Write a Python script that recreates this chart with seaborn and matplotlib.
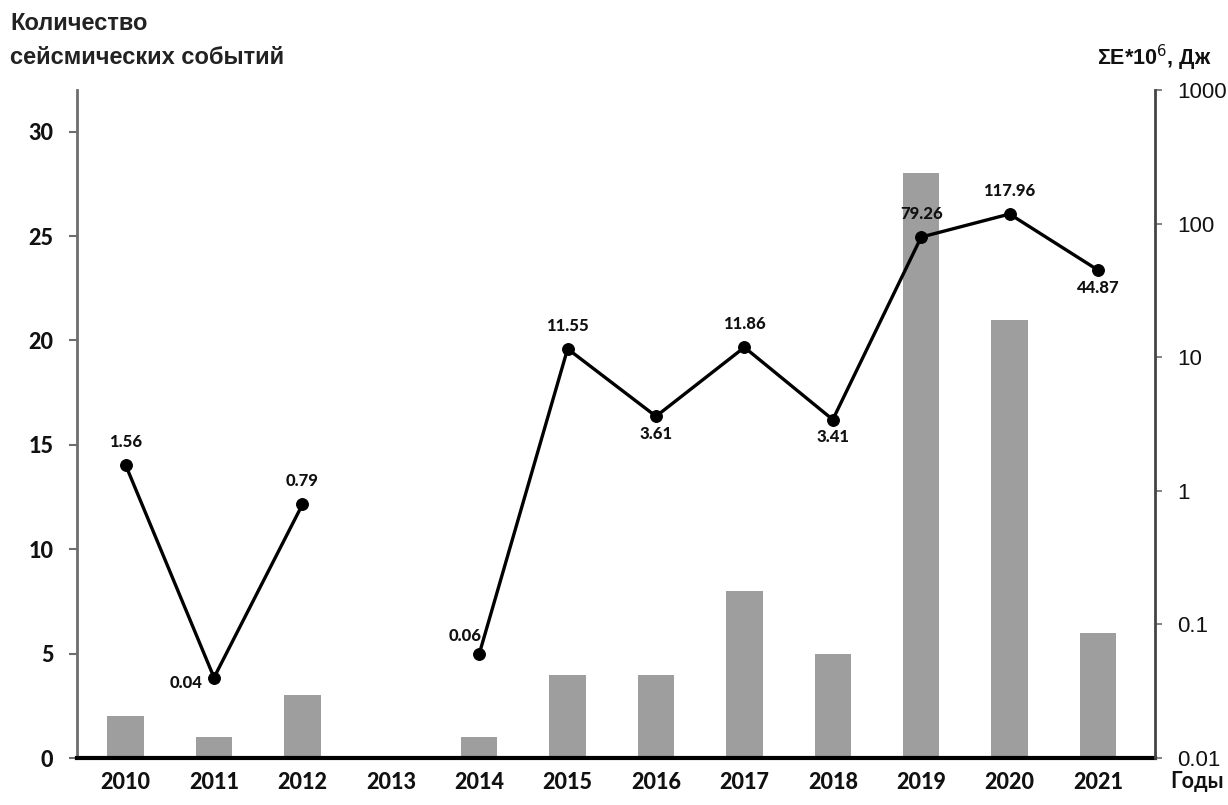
import numpy as np
import pandas as pd
import matplotlib
matplotlib.use("Agg")
import matplotlib.pyplot as plt
import seaborn as sns

years = ["2010", "2011", "2012", "2013", "2014", "2015", "2016", "2017", "2018", "2019", "2020", "2021"]
events = [2, 1, 3, 0, 1, 4, 4, 8, 5, 28, 21, 6]
energy = [1.56, 0.04, 0.79, np.nan, 0.06, 11.55, 3.61, 11.86, 3.41, 79.26, 117.96, 44.87]
energy_labels = ["1.56", "0.04", "0.79", "", "0.06", "11.55", "3.61", "11.86", "3.41", "79.26", "117.96", "44.87"]
label_side = ["above", "left", "above", "", "upleft", "above", "below", "above", "below", "above", "above", "below"]
left_ticks = [0, 5, 10, 15, 20, 25, 30]
right_ticks = [0.01, 0.1, 1, 10, 100, 1000]
right_tick_labels = ["0.01", "0.1", "1", "10", "100", "1000"]

sns.set_theme(style="white")
plt.rcParams["font.family"] = ["Lato", "Noto Sans", "DejaVu Sans"]

W, H = 1228, 805
fig = plt.figure(figsize=(W / 100, H / 100), dpi=100)
ax = fig.add_axes([77 / W, 1 - 758 / H, (1155 - 77) / W, (758 - 90) / H])

pos = np.arange(len(years))
df = pd.DataFrame({"pos": pos, "year": years, "events": events, "energy": energy})
df["seg"] = np.cumsum(np.isnan(df["energy"].to_numpy()))

sns.barplot(data=df, x="pos", y="events", color="#9e9e9e", saturation=1, width=0.41,
            ax=ax, native_scale=True, edgecolor="none")
ax.set_xlim(-0.55, len(years) - 1 + 0.645)
ax.set_ylim(0, 32)
ax.set_yticks(left_ticks)
ax.set_yticklabels([str(t) for t in left_ticks], fontsize=15.5, fontweight="black", color="#111111")
ax.set_xticks(pos)
ax.set_xticklabels(years, fontsize=15.5, fontweight="black", color="#111111")
ax.tick_params(axis="x", length=0, pad=10)
ax.tick_params(axis="y", direction="out", length=6, width=1.5, color="#6e6e6e", pad=11, left=True)
ax.set_xlabel("")
ax.set_ylabel("")
for s in ["top", "right"]:
    ax.spines[s].set_visible(False)
ax.spines["left"].set_color("#6e6e6e")
ax.spines["left"].set_linewidth(2)
ax.spines["bottom"].set_color("black")
ax.spines["bottom"].set_linewidth(3)
ax.spines["bottom"].set_zorder(5)

ax2 = ax.twinx()
sns.lineplot(data=df.dropna(), x="pos", y="energy", units="seg", estimator=None,
             color="black", linewidth=2.4, marker="o", markersize=8.5,
             markeredgecolor="black", ax=ax2, legend=False)
ax2.set_yscale("log")
ax2.set_ylim(0.01, 1000)
ax2.set_yticks(right_ticks)
ax2.set_yticklabels(right_tick_labels, fontsize=16, color="#111111",
                    family=["Liberation Sans", "DejaVu Sans"])
ax2.minorticks_off()
ax2.tick_params(axis="y", direction="out", length=5, width=1.2, color="#6e6e6e", pad=11, right=True)
ax2.set_ylabel("")
ax2.set_xlabel("")
for s in ["top", "left", "bottom"]:
    ax2.spines[s].set_visible(False)
ax2.spines["right"].set_color("#444444")
ax2.spines["right"].set_linewidth(2)
ax2.set_xlim(ax.get_xlim())

offsets = {"above": (0, 11, "center", "bottom"),
           "below": (0, -7, "center", "top"),
           "left": (-8, -4, "right", "center"),
           "upleft": (2, 7, "right", "bottom")}
for p, v, lab, side in zip(pos, energy, energy_labels, label_side):
    if not lab:
        continue
    dx, dy, ha, va = offsets[side]
    ax2.annotate(lab, (p, v), xytext=(dx, dy), textcoords="offset points",
                 ha=ha, va=va, fontsize=12, fontweight="black", color="#111111")

tfam = ["Liberation Sans", "DejaVu Sans"]
fig.text(10 / W, 1 - 24 / H, "Количество", fontsize=17, fontweight="bold",
         ha="left", va="center", color="#222222", family=tfam)
fig.text(10 / W, 1 - 57 / H, "сейсмических событий", fontsize=17, fontweight="bold",
         ha="left", va="center", color="#222222", family=tfam)
fig.text(1212 / W, 1 - 58 / H, "ΣE*10$^{6}$, Дж", fontsize=15.5, fontweight="bold",
         ha="right", va="center", color="#111111", family=tfam)
fig.text(1197 / W, 1 - 781 / H, "Годы", fontsize=15.5, fontweight="bold",
         ha="center", va="center", color="#111111")

fig.savefig("out.png", dpi=100, facecolor="white")
